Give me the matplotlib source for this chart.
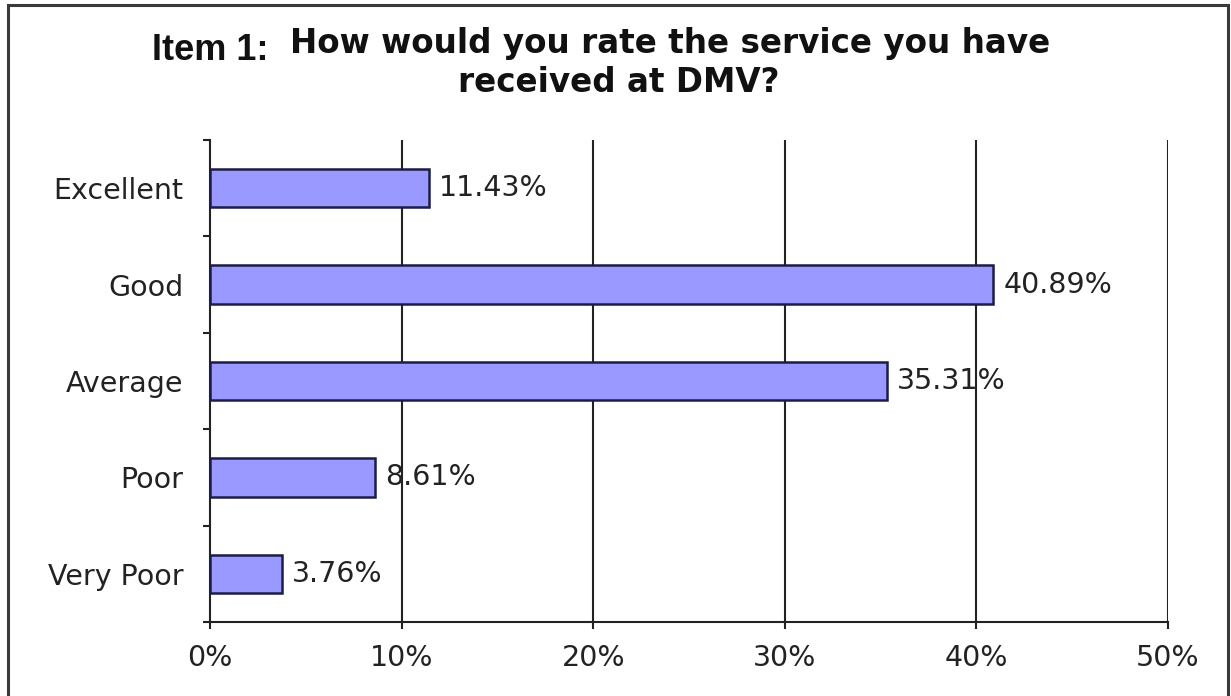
import matplotlib
matplotlib.use("Agg")
from matplotlib import pyplot as plt
from matplotlib.patches import Rectangle
import numpy as np

categories = ["Excellent", "Good", "Average", "Poor", "Very Poor"]
values = [11.43, 40.89, 35.31, 8.61, 3.76]
xticks = [0, 10, 20, 30, 40, 50]
xticklabels = ["0%", "10%", "20%", "30%", "40%", "50%"]

W, H = 1231, 696
fig = plt.figure(figsize=(W / 100, H / 100), dpi=100)
fig.patch.set_facecolor("white")
plt.rcParams["font.family"] = ["DejaVu Sans"]

# outer frame of the chart area (bottom edge runs off the page)
fig.patches.append(Rectangle((8 / W, -0.05), 1220 / W, 1.05 - 5 / H,
                             transform=fig.transFigure, fill=False,
                             edgecolor="#3a3a3a", linewidth=2.2))

ax = fig.add_axes([210 / W, 1 - 622 / H, 958 / W, 482 / H])
y = np.arange(len(categories))
ax.barh(y, values, height=0.40, color="#9999ff", edgecolor="#1c1c48",
        linewidth=1.8, zorder=3)

ax.set_xlim(0, 50)
ax.set_ylim(len(categories) - 0.5, -0.5)

for yi, v in zip(y, values):
    ax.text(v + 0.52, yi, "{:.2f}%".format(v), va="center", ha="left",
            fontsize=20.5, color="#222222", zorder=4)

ax.set_xticks(xticks)
ax.set_xticklabels(xticklabels)
ax.set_yticks(y)
ax.set_yticklabels(categories)
ax.set_yticks(np.arange(len(categories) + 1) - 0.5, minor=True)

ax.tick_params(axis="y", which="major", length=0, pad=19, labelsize=20.5,
               labelcolor="#222222")
ax.tick_params(axis="y", which="minor", length=5, width=1.5, direction="out",
               color="#222222")
ax.tick_params(axis="x", which="major", length=5, width=1.5, direction="out",
               pad=11, labelsize=20.5, labelcolor="#222222", color="#222222")

for x in xticks[1:]:
    ax.axvline(x, color="#222222", linewidth=1.5, zorder=1)

for s in ["top", "right"]:
    ax.spines[s].set_visible(False)
for s in ["left", "bottom"]:
    ax.spines[s].set_linewidth(1.5)
    ax.spines[s].set_color("#222222")

# two-part title
fig.text(152 / W, 1 - 60 / H, "Item 1:", fontsize=26, fontweight="bold",
         family="Liberation Sans", ha="left", va="baseline", color="#111111")
fig.text(290 / W, 1 - 53 / H, "How would you rate the service you have",
         fontsize=23.5, fontweight="bold", ha="left", va="baseline",
         color="#111111")
fig.text(619 / W, 1 - 92 / H, "received at DMV?", fontsize=23.5,
         fontweight="bold", ha="center", va="baseline", color="#111111")

fig.savefig("out.png", dpi=100)
